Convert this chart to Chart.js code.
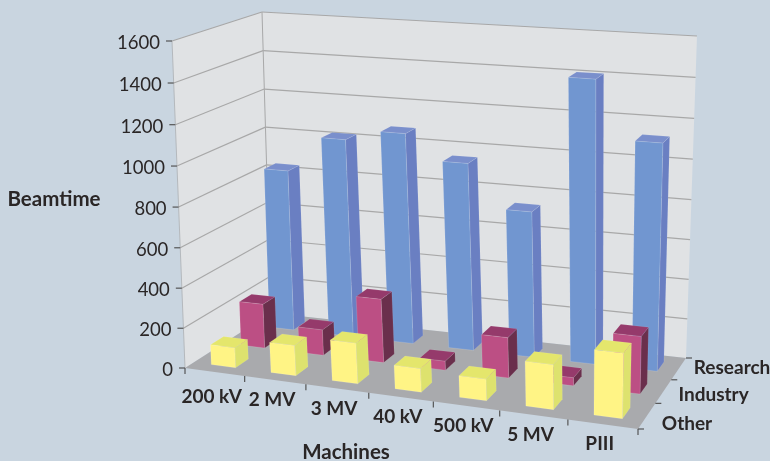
<!DOCTYPE html>
<html>
<head>
<meta charset="utf-8">
<title>Beamtime</title>
<script src="https://cdn.jsdelivr.net/npm/chart.js@4"></script>
<style>
  html, body { margin: 0; padding: 0; background: #c9d5e0; overflow: hidden; }
  canvas { display: block; }
</style>
</head>
<body>
<canvas id="beamChart" width="770" height="461"></canvas>
<script>
const machines = ["200 kV", "2 MV", "3 MV", "40 kV", "500 kV", "5 MV", "PIII"];
const rows = ["Other", "Industry", "Research"];
const other = [100, 150, 200, 115, 105, 215, 310];
const industry = [226, 130, 320, 45, 200, 40, 280];
const research = [835, 1020, 1075, 950, 735, 1410, 1125];
const valueTicks = [0, 200, 400, 600, 800, 1000, 1200, 1400, 1600];

// Corners of the box on screen: front-left, front-right, back-right, back-left
const floorQuad = [[185, 368], [638, 429], [686, 358], [271, 313]];
const ceilingQuad = [[172, 41], [647, 78], [697, 36], [262, 12]];

const barShare = 0.41;
const depthShare = 0.43;
const uBend = 0.0725;
const uBendBack = 0.21;
const tBend = 0.032;
const sansFont = "Lato, 'Open Sans', sans-serif";

const faceColors = {
  Other: { front: "#fff485", side: "#dde26e", top: "#e4e66c" },
  Industry: { front: "#bc4f84", side: "#6a2f4c", top: "#953a6b" },
  Research: { front: "#7196d0", side: "#6a7fc2", top: "#7a8fcc" },
};

// Unit square to quad perspective mapping
function quadMapper(q) {
  const [[x0, y0], [x1, y1], [x2, y2], [x3, y3]] = q;
  const dx1 = x1 - x2, dx2 = x3 - x2, sx = x0 - x1 + x2 - x3;
  const dy1 = y1 - y2, dy2 = y3 - y2, sy = y0 - y1 + y2 - y3;
  const den = dx1 * dy2 - dx2 * dy1;
  const g = (sx * dy2 - dx2 * sy) / den;
  const h = (dx1 * sy - sx * dy1) / den;
  const a = x1 - x0 + g * x1, b = x3 - x0 + h * x3;
  const d = y1 - y0 + g * y1, e = y3 - y0 + h * y3;
  return function (u, v) {
    const w = g * u + h * v + 1;
    return [(a * u + b * v + x0) / w, (d * u + e * v + y0) / w];
  };
}

const floorAt = quadMapper(floorQuad);
const ceilingAt = quadMapper(ceilingQuad);

// u along the machines, v into the depth, t up the value axis (all 0 to 1).
// A box passes its row centre as bendV so its faces stay parallel.
function project(u, v, t, bendV = v) {
  const bend = uBend + uBendBack * Math.max(0, bendV - 0.6);
  const ub = u / (1 - bend + bend * u);
  const tb = t / (1 + tBend * (1 - t));
  const f = floorAt(ub, v);
  const c = ceilingAt(ub, v);
  return [f[0] + (c[0] - f[0]) * tb, f[1] + (c[1] - f[1]) * tb];
}

function fillPoly(ctx, pts, fill, edge) {
  ctx.beginPath();
  pts.forEach((p, i) => (i ? ctx.lineTo(p[0], p[1]) : ctx.moveTo(p[0], p[1])));
  ctx.closePath();
  ctx.fillStyle = fill;
  ctx.fill();
  if (edge) {
    ctx.strokeStyle = edge;
    ctx.lineWidth = 0.7;
    ctx.stroke();
  }
}

function strokeLine(ctx, a, b, color, width) {
  ctx.beginPath();
  ctx.moveTo(a[0], a[1]);
  ctx.lineTo(b[0], b[1]);
  ctx.strokeStyle = color;
  ctx.lineWidth = width;
  ctx.stroke();
}

function drawText(ctx, text, x, y, font, align) {
  ctx.font = font;
  ctx.textAlign = align;
  ctx.textBaseline = "middle";
  ctx.fillStyle = "#2a2626";
  ctx.fillText(text, x, y);
}

const box3d = {
  id: "box3d",
  beforeDatasetsDraw(chart) {
    const ctx = chart.ctx;
    const xs = chart.scales.x;
    const ys = chart.scales.y;
    const ds = chart.scales.depth;
    const uOf = (i) => xs.getDecimalForPixel(xs.getPixelForValue(i));
    const vOf = (i) => ds.getDecimalForPixel(ds.getPixelForValue(i));
    const tOf = (val) => ys.getDecimalForPixel(ys.getPixelForValue(val));

    ctx.save();
    ctx.lineJoin = "round";

    // Walls and floor
    fillPoly(ctx, [project(0, 0, 0), project(0, 1, 0), project(0, 1, 1), project(0, 0, 1)], "#e0e2e4");
    fillPoly(ctx, [project(0, 1, 0), project(1, 1, 0), project(1, 1, 1), project(0, 1, 1)], "#e0e2e4");
    fillPoly(ctx, [project(0, 0, 0), project(1, 0, 0), project(1, 1, 0), project(0, 1, 0)], "#a9aaad");
    strokeLine(ctx, project(0, 0, 0), project(0, 0, 1), "#b4b8bc", 1);
    strokeLine(ctx, project(0, 1, 0), project(0, 1, 1), "#a8a8a8", 1);

    // Gridlines, ticks and labels of the value axis
    valueTicks.forEach((val) => {
      const t = tOf(val);
      if (val > 0) {
        strokeLine(ctx, project(0, 0, t), project(0, 1, t), "#a8a8a8", 1.2);
        strokeLine(ctx, project(0, 1, t), project(1, 1, t), "#a8a8a8", 1.2);
      }
      const p = project(0, 0, t);
      strokeLine(ctx, [p[0] - 6, p[1]], p, "#555555", 1.2);
      drawText(ctx, String(val), p[0] - 12, p[1] + 2, "400 18.5px " + sansFont, "right");
    });

    // Ticks and labels along the machines edge
    strokeLine(ctx, project(0, 0, 0), [project(0, 0, 0)[0], project(0, 0, 0)[1] + 6], "#555555", 1.2);
    machines.forEach((name, i) => {
      const edge = project(uOf(i + 0.5), 0, 0);
      strokeLine(ctx, edge, [edge[0], edge[1] + 6], "#555555", 1.2);
      const mid = project(uOf(i), 0, 0);
      const drop = i === 0 ? 25 : 20;
      drawText(ctx, name, mid[0] - 3, mid[1] + drop, "700 19px " + sansFont, "center");
    });

    // Ticks and labels along the depth edge
    strokeLine(ctx, project(1, 0, 0), [project(1, 0, 0)[0] + 6, project(1, 0, 0)[1]], "#555555", 1.2);
    rows.forEach((name, i) => {
      const edge = project(1, vOf(i + 0.5), 0);
      strokeLine(ctx, edge, [edge[0] + 6, edge[1]], "#555555", 1.2);
      const mid = project(1, vOf(i), 0);
      drawText(ctx, name, mid[0] + 15, mid[1] + 7.5 - 4 * i, "700 19px " + sansFont, "left");
    });

    drawText(ctx, "Beamtime", 54, 199, "700 20.5px " + sansFont, "center");
    drawText(ctx, "Machines", 346, 452, "700 20.5px " + sansFont, "center");

    // Boxes: back row first, left to right inside a row
    for (let r = chart.data.datasets.length - 1; r >= 0; r--) {
      const dataset = chart.data.datasets[r];
      const colors = faceColors[dataset.label];
      const rowIndex = rows.indexOf(dataset.label);
      const rowV = vOf(rowIndex);
      const v0 = vOf(rowIndex - depthShare / 2);
      const v1 = vOf(rowIndex + depthShare / 2);
      dataset.data.forEach((val, i) => {
        const u0 = uOf(i - barShare / 2);
        const u1 = uOf(i + barShare / 2);
        const t = tOf(val);
        fillPoly(ctx, [project(u1, v0, 0, rowV), project(u1, v1, 0, rowV), project(u1, v1, t, rowV), project(u1, v0, t, rowV)], colors.side, "rgba(255,255,255,0.12)");
        fillPoly(ctx, [project(u0, v0, t, rowV), project(u1, v0, t, rowV), project(u1, v1, t, rowV), project(u0, v1, t, rowV)], colors.top, "rgba(255,255,255,0.12)");
        fillPoly(ctx, [project(u0, v0, 0, rowV), project(u1, v0, 0, rowV), project(u1, v0, t, rowV), project(u0, v0, t, rowV)], colors.front, "rgba(255,255,255,0.18)");
      });
    }

    ctx.restore();
    return false;
  },
};

new Chart(document.getElementById("beamChart").getContext("2d"), {
  type: "bar",
  data: {
    labels: machines,
    datasets: [
      { label: "Other", data: other, backgroundColor: faceColors.Other.front },
      { label: "Industry", data: industry, backgroundColor: faceColors.Industry.front },
      { label: "Research", data: research, backgroundColor: faceColors.Research.front },
    ],
  },
  options: {
    responsive: false,
    animation: false,
    events: [],
    layout: { padding: 0 },
    plugins: {
      legend: { display: false },
      tooltip: { enabled: false },
    },
    scales: {
      x: { type: "category", display: false, offset: true },
      y: { type: "linear", display: false, min: 0, max: 1600, ticks: { stepSize: 200 } },
      depth: { type: "category", axis: "x", display: false, offset: true, labels: rows },
    },
  },
  plugins: [box3d],
});
</script>
</body>
</html>
